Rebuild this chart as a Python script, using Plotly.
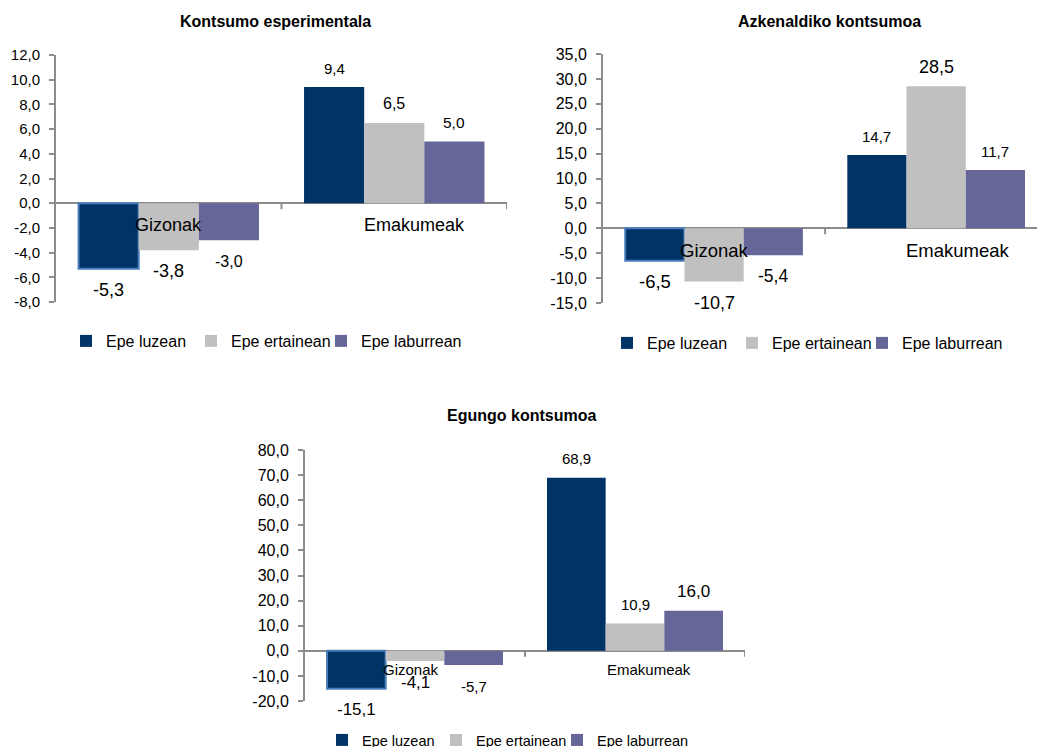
import plotly.graph_objects as go

W, H = 1037, 747

categories = ["Gizonak", "Emakumeak"]
series_names = ["Epe luzean", "Epe ertainean", "Epe laburrean"]
titles = ["Kontsumo esperimentala", "Azkenaldiko kontsumoa", "Egungo kontsumoa"]

# Kontsumo esperimentala
esperimentala_luzean = [-5.3, 9.4]
esperimentala_ertainean = [-3.8, 6.5]
esperimentala_laburrean = [-3.0, 5.0]
# Azkenaldiko kontsumoa
azkenaldiko_luzean = [-6.5, 14.7]
azkenaldiko_ertainean = [-10.7, 28.5]
azkenaldiko_laburrean = [-5.4, 11.7]
# Egungo kontsumoa
egungo_luzean = [-15.1, 68.9]
egungo_ertainean = [-4.1, 10.9]
egungo_laburrean = [-5.7, 16.0]

ticks_1 = [-8, -6, -4, -2, 0, 2, 4, 6, 8, 10, 12]
tick_labels_1 = ["-8,0", "-6,0", "-4,0", "-2,0", "0,0", "2,0", "4,0", "6,0", "8,0", "10,0", "12,0"]
ticks_2 = [-15, -10, -5, 0, 5, 10, 15, 20, 25, 30, 35]
tick_labels_2 = ["-15,0", "-10,0", "-5,0", "0,0", "5,0", "10,0", "15,0", "20,0", "25,0", "30,0", "35,0"]
ticks_3 = [-20, -10, 0, 10, 20, 30, 40, 50, 60, 70, 80]
tick_labels_3 = ["-20,0", "-10,0", "0,0", "10,0", "20,0", "30,0", "40,0", "50,0", "60,0", "70,0", "80,0"]

charts = [
    dict(title=titles[0], series=[esperimentala_luzean, esperimentala_ertainean, esperimentala_laburrean],
         ticks=ticks_1, labels=tick_labels_1),
    dict(title=titles[1], series=[azkenaldiko_luzean, azkenaldiko_ertainean, azkenaldiko_laburrean],
         ticks=ticks_2, labels=tick_labels_2),
    dict(title=titles[2], series=[egungo_luzean, egungo_ertainean, egungo_laburrean],
         ticks=ticks_3, labels=tick_labels_3),
]

# ---- styling / layout (pixel geometry) ----
colors = ["#003366", "#C0C0C0", "#666699"]
outline = "#4A7EBB"
axis_grey = "#8C8C8C"
FONT = "Liberation Sans, Arial, sans-serif"

layout_px = [
    dict(x0=56, x1=507, xr=[-0.5, 1.5], y_top=55, y_bot=302, title_xy=(275, 21),
         legend_sym_x=[86, 211, 341], legend_y=341, legend_font=16,
         tick_font=15, cat_font=18, cat_dy=22, cat_dx=[0, 20],
         label_sizes=[[18, 15], [18, 16], [16, 15.5]]),
    dict(x0=603, x1=W, xr=[-0.5, 1.454], y_top=54, y_bot=303, title_xy=(829, 21),
         legend_sym_x=[627, 752, 882], legend_y=343, legend_font=16,
         tick_font=16, cat_font=18.5, cat_dy=22, cat_dx=[0, 22],
         label_sizes=[[18.5, 15], [18, 18], [17.5, 15]]),
    dict(x0=305, x1=745, xr=[-0.5, 1.5], y_top=450, y_bot=701, title_xy=(521, 415),
         legend_sym_x=[342, 456, 577], legend_y=740, legend_font=14.5,
         tick_font=16, cat_font=15, cat_dy=19, cat_dx=[-4, 14],
         label_sizes=[[17, 15], [17, 15], [15, 17]]),
]

fig = go.Figure()
annotations = []
shapes = []
legends = {}
group_w = 0.8
n_series = 3

for ci, (ch, lp) in enumerate(zip(charts, layout_px)):
    sfx = "" if ci == 0 else str(ci + 1)
    xa, ya = "x" + sfx, "y" + sfx
    for si, vals in enumerate(ch["series"]):
        n = ci * n_series + si + 1
        leg = "legend" if n == 1 else f"legend{n}"
        legends[leg] = dict(x=(lp["legend_sym_x"][si] - 20) / W, y=1 - lp["legend_y"] / H,
                            xanchor="left", yanchor="middle", orientation="h",
                            font=dict(size=lp["legend_font"], color="#000000", family=FONT),
                            itemwidth=30, bgcolor="rgba(0,0,0,0)", borderwidth=0)
        idx = list(range(len(categories)))[::-1]   # Emakumeak first so the legend swatch has no outline
        fig.add_trace(go.Bar(
            x=idx, y=[vals[k] for k in idx], name=series_names[si],
            xaxis=xa, yaxis=ya, legend=leg,
            marker=dict(color=colors[si],
                        line=dict(color=outline, width=[2 if (si == 0 and k == 0) else 0 for k in idx])),
            hoverinfo="skip",
        ))
        # data labels
        for k, v in enumerate(vals):
            off = (si - (n_series - 1) / 2) * group_w / n_series
            annotations.append(dict(
                x=k + off, y=v, xref=xa, yref=ya, xanchor="center", yanchor="middle",
                text=f"{v:.1f}".replace(".", ","), showarrow=False,
                yshift=19 if v >= 0 else -21,
                font=dict(size=lp["label_sizes"][si][k], color="#000000", family=FONT),
            ))
    # category labels at the zero line
    for k, c in enumerate(categories):
        annotations.append(dict(x=k, y=0, xref=xa, yref=ya, text=c, showarrow=False,
                                xanchor="center", yanchor="middle",
                                yshift=-lp["cat_dy"], xshift=lp["cat_dx"][k],
                                font=dict(size=lp["cat_font"], color="#000000", family=FONT)))
    # title
    annotations.append(dict(x=lp["title_xy"][0] / W, y=1 - lp["title_xy"][1] / H, xref="paper", yref="paper",
                            xanchor="center", yanchor="middle",
                            text="<b>" + ch["title"] + "</b>", showarrow=False,
                            font=dict(size=16, color="#000000", family=FONT)))
    # category boundary ticks on zero line
    for tx in [0.5, 1.5]:
        shapes.append(dict(type="line", xref=xa, yref=ya, x0=tx, x1=tx, y0=0, y1=-6,
                           ysizemode="pixel", yanchor=0,
                           line=dict(color=axis_grey, width=2)))

    xdom = [lp["x0"] / W, min(lp["x1"] / W, 1.0)]
    ydom = [1 - lp["y_bot"] / H, 1 - lp["y_top"] / H]
    fig.update_layout(**{
        "xaxis" + sfx: dict(domain=xdom, range=lp["xr"], anchor=ya, showgrid=False, zeroline=False,
                            showticklabels=False, showline=False, fixedrange=True),
        "yaxis" + sfx: dict(domain=ydom, range=[ch["ticks"][0], ch["ticks"][-1]], anchor=xa,
                            tickvals=ch["ticks"], ticktext=ch["labels"], showgrid=False,
                            zeroline=True, zerolinecolor=axis_grey, zerolinewidth=2,
                            showline=True, linecolor=axis_grey, linewidth=2,
                            ticks="outside", ticklen=5, tickwidth=1.5, tickcolor=axis_grey,
                            ticklabelstandoff=6,
                            tickfont=dict(size=lp["tick_font"], color="#000000", family=FONT),
                            fixedrange=True),
    })

fig.update_layout(**legends)
fig.update_layout(
    width=W, height=H,
    margin=dict(l=0, r=0, t=0, b=0, autoexpand=False),
    barmode="group", bargap=0.2, bargroupgap=0,
    plot_bgcolor="white", paper_bgcolor="white",
    font=dict(family=FONT, color="#000000"),
    annotations=annotations, shapes=shapes,
    showlegend=True,
)

fig.write_html("out.html", config={"displayModeBar": False},
               post_script="document.body.style.margin='0';document.body.style.padding='0';document.body.style.overflow='hidden';")
